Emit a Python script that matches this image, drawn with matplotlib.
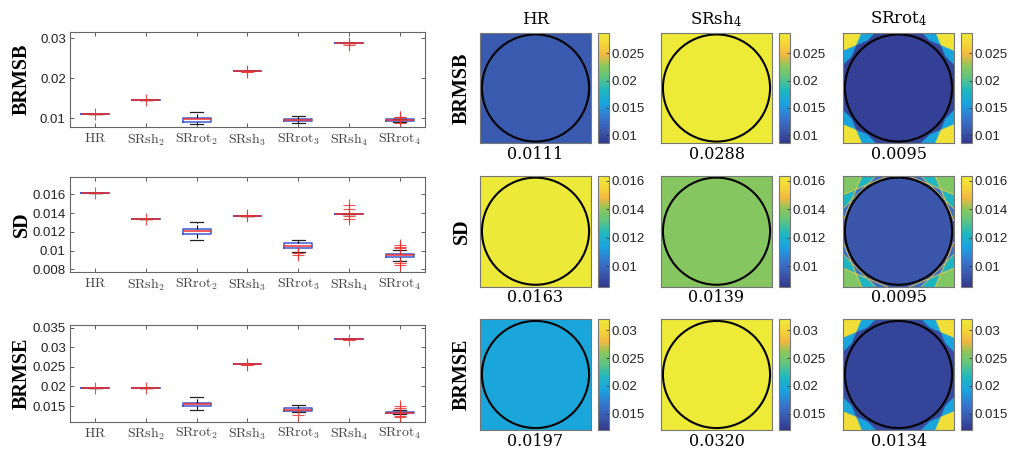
import numpy as np
import matplotlib
matplotlib.use("Agg")
import matplotlib.pyplot as plt
from matplotlib.colors import LinearSegmentedColormap
from matplotlib.patches import Circle

plt.rcParams['mathtext.fontset'] = 'cm'
plt.rcParams['font.family'] = ['Liberation Sans', 'DejaVu Sans']

# ---------------- data ----------------
metrics = ['BRMSB', 'SD', 'BRMSE']
categories = [r'$\mathrm{HR}$', r'$\mathrm{SRsh}_2$', r'$\mathrm{SRrot}_2$', r'$\mathrm{SRsh}_3$',
              r'$\mathrm{SRrot}_3$', r'$\mathrm{SRsh}_4$', r'$\mathrm{SRrot}_4$']

# BRMSB box statistics
brmsb_med = [0.0111, 0.0145, 0.0098, 0.0217, 0.0096, 0.0288, 0.0095]
brmsb_q1 = [0.0111, 0.0145, 0.0091, 0.0217, 0.0093, 0.0288, 0.0093]
brmsb_q3 = [0.0111, 0.0145, 0.0101, 0.0217, 0.0099, 0.0288, 0.0097]
brmsb_wlo = [0.0111, 0.0145, 0.0086, 0.0217, 0.0087, 0.0288, 0.0091]
brmsb_whi = [0.0111, 0.0145, 0.0116, 0.0217, 0.0105, 0.0288, 0.0099]
brmsb_fliers = [[0.0111], [0.0145], [], [0.0215, 0.0217], [],
                [0.0283, 0.0288], [0.0088, 0.0102, 0.0104]]

# SD box statistics
sd_med = [0.0162, 0.0134, 0.0121, 0.0137, 0.0105, 0.0139, 0.0095]
sd_q1 = [0.0162, 0.0134, 0.0118, 0.0137, 0.0103, 0.0139, 0.0093]
sd_q3 = [0.0162, 0.0134, 0.0123, 0.0137, 0.0108, 0.0139, 0.0096]
sd_wlo = [0.0162, 0.0134, 0.0111, 0.0137, 0.0099, 0.0139, 0.0089]
sd_whi = [0.0162, 0.0134, 0.0131, 0.0137, 0.0111, 0.0139, 0.0101]
sd_fliers = [[0.0162], [0.0134], [], [0.0137, 0.0138],
             [0.0095, 0.0097], [0.0134, 0.0137, 0.0140, 0.0145, 0.0149],
             [0.0085, 0.0087, 0.0103, 0.0104, 0.0106]]

# BRMSE box statistics
brmse_med = [0.0197, 0.0197, 0.0154, 0.0257, 0.0141, 0.0321, 0.0133]
brmse_q1 = [0.0197, 0.0197, 0.0149, 0.0257, 0.0138, 0.0321, 0.0131]
brmse_q3 = [0.0197, 0.0197, 0.0159, 0.0257, 0.0145, 0.0321, 0.0136]
brmse_wlo = [0.0197, 0.0197, 0.0140, 0.0257, 0.0135, 0.0321, 0.0129]
brmse_whi = [0.0197, 0.0197, 0.0174, 0.0257, 0.0152, 0.0321, 0.0139]
brmse_fliers = [[0.0197], [0.0197], [], [0.0254, 0.0257], [0.0128], [0.0319],
                [0.0122, 0.0125, 0.0146, 0.0149]]

box_ylims = [(0.00775, 0.0315), (0.00768, 0.0179), (0.0110, 0.0357)]
box_yticks = [[0.01, 0.02, 0.03], [0.008, 0.01, 0.012, 0.014, 0.016],
              [0.015, 0.02, 0.025, 0.03, 0.035]]
box_yticklabels = [['0.01', '0.02', '0.03'], ['0.008', '0.01', '0.012', '0.014', '0.016'],
                   ['0.015', '0.02', '0.025', '0.03', '0.035']]

# maps
map_titles = ['HR', r'SRsh$_4$', r'SRrot$_4$']
map_means = [[0.0111, 0.0288, 0.0095],
             [0.0163, 0.0139, 0.0095],
             [0.0197, 0.0320, 0.0134]]
map_clims = [(0.0085, 0.0288), (0.00855, 0.01635), (0.0121, 0.0320)]
cbar_ticks = [[0.01, 0.015, 0.02, 0.025], [0.01, 0.012, 0.014, 0.016], [0.015, 0.02, 0.025, 0.03]]
cbar_ticklabels = [['0.01', '0.015', '0.02', '0.025'], ['0.01', '0.012', '0.014', '0.016'],
                   ['0.015', '0.02', '0.025', '0.03']]
rot_angles_deg = [0.0, 22.5, 45.0, 67.5]
# map value per number of rotated acquisitions covering a pixel (1..4)
rot_levels = [[0.0280, 0.0160, 0.0096, 0.0092],
              [0.0138, 0.0122, 0.0102, 0.0094],
              [0.0308, 0.0195, 0.0136, 0.0130]]
rot_edge_values = [None, 0.0152, None]

# ---------------- styling ----------------
cmap = LinearSegmentedColormap.from_list('parula_like', [
    (0.00, (0.19, 0.22, 0.55)),
    (0.10, (0.23, 0.33, 0.66)),
    (0.22, (0.22, 0.45, 0.80)),
    (0.36, (0.10, 0.64, 0.88)),
    (0.48, (0.12, 0.72, 0.75)),
    (0.60, (0.38, 0.77, 0.50)),
    (0.70, (0.55, 0.78, 0.36)),
    (0.80, (0.95, 0.72, 0.26)),
    (0.90, (0.96, 0.84, 0.22)),
    (1.00, (0.93, 0.92, 0.22))])

BLUE = '#3a5ad0'
RED = '#f03030'
SPINE = '#666666'

fig = plt.figure(figsize=(10.21, 4.61), dpi=100)
FW, FH = 1021.0, 461.0

all_stats = [
    (brmsb_med, brmsb_q1, brmsb_q3, brmsb_wlo, brmsb_whi, brmsb_fliers),
    (sd_med, sd_q1, sd_q3, sd_wlo, sd_whi, sd_fliers),
    (brmse_med, brmse_q1, brmse_q3, brmse_wlo, brmse_whi, brmse_fliers),
]

box_tops = [32.3, 176.7, 325.0]
box_bots = [127.3, 272.3, 421.7]
for i in range(3):
    med, q1, q3, wlo, whi, fl = all_stats[i]
    ax = fig.add_axes([70 / FW, 1 - box_bots[i] / FH, 355 / FW, (box_bots[i] - box_tops[i]) / FH])
    stats = []
    for k in range(len(categories)):
        stats.append(dict(med=med[k], q1=q1[k], q3=q3[k], whislo=wlo[k], whishi=whi[k],
                          fliers=np.array(fl[k]), label=categories[k]))
    ax.bxp(stats, positions=np.arange(1, 8), widths=0.55, capwidths=0.25, showfliers=True,
           boxprops=dict(color=BLUE, lw=1.1),
           medianprops=dict(color=RED, lw=1.3, alpha=0.85),
           whiskerprops=dict(color='black', lw=0.8, ls='--'),
           capprops=dict(color='#222222', lw=0.9),
           flierprops=dict(marker='+', markeredgecolor=RED, markersize=8, mew=0.8, ls='none',
                           alpha=0.85))
    ax.set_xlim(0.5, 7.5)
    ax.set_ylim(*box_ylims[i])
    ax.set_yticks(box_yticks[i])
    ax.set_yticklabels(box_yticklabels[i], fontsize=9.5, color='#222222')
    ax.set_xticks(np.arange(1, 8))
    ax.set_xticklabels(categories, fontsize=10, color='#444444')
    ax.tick_params(direction='in', top=True, right=True, length=3, width=0.6, color='#444444', pad=3)
    for s in ax.spines.values():
        s.set_color(SPINE)
        s.set_linewidth(0.8)
    yc = (box_tops[i] + box_bots[i]) / 2
    fig.text(22 / FW, 1 - yc / FH, metrics[i], rotation=90, ha='center', va='center',
             fontsize=14.5, fontweight='bold', family='Liberation Serif')

# ---------------- maps ----------------
N = 221
xs = np.linspace(-1, 1, N)
X, Y = np.meshgrid(xs, xs)
count = np.zeros_like(X, dtype=int)
for a in rot_angles_deg:
    t = np.deg2rad(a)
    u = X * np.cos(t) + Y * np.sin(t)
    v = -X * np.sin(t) + Y * np.cos(t)
    count += ((np.abs(u) <= 1.0 + 1e-9) & (np.abs(v) <= 1.0 + 1e-9)).astype(int)
edge = np.zeros_like(count, dtype=bool)
edge[1:, :] |= count[1:, :] != count[:-1, :]
edge[:-1, :] |= count[1:, :] != count[:-1, :]
edge[:, 1:] |= count[:, 1:] != count[:, :-1]
edge[:, :-1] |= count[:, 1:] != count[:, :-1]

img_x = [480, 661, 843]
cb_x = [598, 779, 961]
img_top = [32.5, 175.7, 319.0]
val_y = [154, 298, 441]
S = 111.0

for i in range(3):
    vmin, vmax = map_clims[i]
    for j in range(3):
        ax = fig.add_axes([img_x[j] / FW, 1 - (img_top[i] + S) / FH, S / FW, S / FH])
        if j == 2:
            field = np.array(rot_levels[i])[count - 1]
            if rot_edge_values[i] is not None:
                field = np.where(edge & (np.hypot(X, Y) > 0.97), rot_edge_values[i], field)
        else:
            field = np.full_like(X, map_means[i][j])
        im = ax.imshow(field, cmap=cmap, vmin=vmin, vmax=vmax, extent=(-1, 1, -1, 1),
                       origin='lower', interpolation='bilinear')
        ax.add_patch(Circle((0, 0), 0.965, fill=False, ec='black', lw=1.5))
        ax.set_xlim(-1, 1)
        ax.set_ylim(-1, 1)
        ax.set_xticks([])
        ax.set_yticks([])
        for s in ax.spines.values():
            s.set_color('#777777')
            s.set_linewidth(0.8)
        cx = (img_x[j] + S / 2) / FW
        fig.text(cx, 1 - val_y[i] / FH, '%.4f' % map_means[i][j], ha='center', va='center',
                 fontsize=11.5, family='DejaVu Serif')
        if i == 0:
            fig.text(cx, 1 - 19 / FH, map_titles[j], ha='center', va='center',
                     fontsize=12, family='DejaVu Serif', math_fontfamily='dejavuserif')
        cax = fig.add_axes([cb_x[j] / FW, 1 - (img_top[i] + S) / FH, 10.7 / FW, S / FH])
        cb = fig.colorbar(im, cax=cax)
        cb.set_ticks(cbar_ticks[i])
        cb.set_ticklabels(cbar_ticklabels[i])
        cax.tick_params(direction='in', length=2.5, width=0.6, labelsize=9.5, color='#333333',
                        labelcolor='#222222', pad=2)
        cb.outline.set_edgecolor('#777777')
        cb.outline.set_linewidth(0.8)
    fig.text(462 / FW, 1 - (img_top[i] + S / 2) / FH, metrics[i], rotation=90, ha='center',
             va='center', fontsize=14.5, fontweight='bold', family='Liberation Serif')

fig.savefig('out.png', dpi=100)
